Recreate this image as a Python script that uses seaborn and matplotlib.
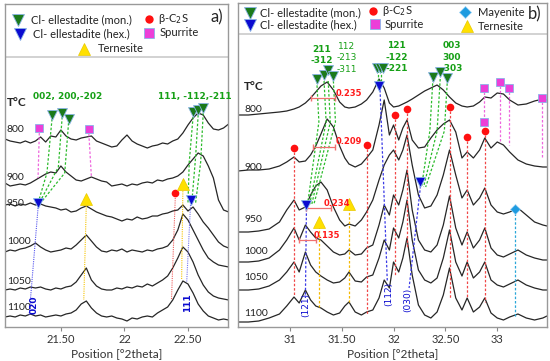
import matplotlib
matplotlib.use("Agg")
import matplotlib.pyplot as plt
import seaborn as sns
from matplotlib.lines import Line2D

# ---------------- panel a (21.06 - 22.82 deg 2theta) ----------------
a_theta = [21.06, 21.10, 21.14, 21.18, 21.22, 21.26, 21.30, 21.34, 21.38, 21.42,
           21.46, 21.50, 21.54, 21.58, 21.62, 21.66, 21.70, 21.74, 21.78, 21.82,
           21.86, 21.90, 21.94, 21.98, 22.02, 22.06, 22.10, 22.14, 22.18, 22.22,
           22.26, 22.30, 22.34, 22.38, 22.42, 22.46, 22.50, 22.54, 22.58, 22.62,
           22.66, 22.70, 22.74, 22.78, 22.82]
# stacked intensities (offset included)
a_800 = [188, 186, 185, 184, 186, 184, 186, 190, 185, 191, 190, 197, 191, 188, 187,
         189, 190, 191, 186, 184, 182, 180, 181, 187, 192, 186, 183, 181, 179, 181,
         182, 184, 183, 186, 188, 194, 202, 209, 214, 212, 204, 198, 197, 199, 203]
a_900 = [144, 141, 142, 143, 142, 144, 147, 150, 153, 155, 154, 161, 155, 151, 147,
         146, 148, 150, 148, 146, 145, 141, 142, 143, 141, 143, 142, 144, 145, 144,
         147, 146, 148, 149, 151, 155, 162, 168, 174, 171, 161, 149, 127, 117, 115]
a_950 = [122, 123, 121, 123, 122, 124, 122, 123, 121, 120, 119, 117, 118, 115, 116,
         119, 121, 118, 115, 113, 111, 110, 108, 106, 108, 107, 110, 108, 109, 111,
         111, 113, 114, 116, 117, 122, 116, 120, 113, 105, 99, 92, 85, 81, 79]
a_1000 = [75, 77, 76, 78, 79, 81, 84, 80, 77, 75, 76, 77, 79, 78, 82,
          87, 92, 86, 80, 76, 75, 77, 76, 78, 75, 77, 76, 75, 77, 76,
          78, 79, 81, 87, 97, 113, 107, 97, 87, 77, 69, 65, 62, 61, 60]
a_1050 = [37, 38, 37, 39, 38, 40, 39, 40, 38, 37, 39, 38, 40, 41, 45,
          52, 59, 47, 41, 38, 37, 37, 39, 38, 40, 39, 41, 40, 43, 41,
          44, 47, 51, 59, 69, 80, 75, 65, 52, 42, 35, 31, 29, 28, 27]
a_1100 = [10, 11, 10, 12, 11, 13, 11, 12, 10, 11, 12, 11, 13, 14, 17,
          23, 26, 19, 14, 11, 10, 11, 9, 8, 6, 9, 8, 10, 11, 10,
          14, 17, 20, 27, 37, 46, 43, 34, 23, 16, 11, 9, 7, 8, 7]

temps = ["800", "900", "950", "1000", "1050", "1100"]
a_label_y = [197, 150, 124, 85, 45, 19]

# phase markers in panel a (position, height)
a_mon_theta = [21.43, 21.51, 21.56, 22.54, 22.58, 22.62]
a_mon_y = [212, 214, 208, 215, 217, 219]
a_hex_theta = [21.32, 22.52]
a_hex_y = [124, 127]
a_c2s_theta = [22.40]
a_c2s_y = [134]
a_spu_theta = [21.33, 21.72]
a_spu_y = [199, 198]
a_ter_theta = [21.70, 22.46]
a_ter_y = [128, 143]

# ---------------- panel b (30.50 - 33.48 deg 2theta) ----------------
b_theta = [30.50, 30.60, 30.70, 30.80, 30.90, 30.97, 31.04, 31.09, 31.15, 31.20,
           31.25, 31.30, 31.36, 31.42, 31.48, 31.53, 31.57, 31.63, 31.69, 31.74,
           31.80, 31.86, 31.91, 31.96, 32.00, 32.05, 32.09, 32.13, 32.18, 32.24,
           32.30, 32.36, 32.42, 32.48, 32.54, 32.60, 32.66, 32.71, 32.77, 32.83,
           32.88, 32.94, 33.00, 33.06, 33.12, 33.20, 33.28, 33.36, 33.44, 33.48]
b_800 = [212, 212, 213, 214, 215, 216, 218, 220, 224, 229, 235, 241, 245, 237, 225,
         220, 219, 220, 223, 227, 235, 248, 239, 224, 220, 221, 223, 225, 228, 232,
         236, 239, 242, 237, 230, 224, 221, 220, 221, 225, 230, 229, 234, 233, 227,
         222, 223, 226, 228, 227]
b_900 = [156, 157, 157, 158, 161, 165, 170, 165, 166, 172, 181, 193, 208, 200, 181,
         169, 163, 160, 163, 169, 177, 202, 227, 192, 202, 187, 199, 207, 187, 179,
         180, 189, 197, 203, 207, 195, 169, 175, 169, 177, 189, 179, 185, 182, 175,
         167, 163, 161, 160, 160]
b_950 = [95, 95, 96, 98, 105, 117, 127, 117, 120, 132, 141, 145, 137, 120, 107,
         101, 103, 101, 107, 115, 127, 147, 162, 172, 177, 167, 177, 192, 162, 132,
         119, 121, 132, 152, 177, 152, 129, 137, 122, 129, 139, 122, 115, 113, 115,
         119, 112, 105, 102, 101]
b_1000 = [65, 65, 66, 69, 77, 87, 99, 87, 102, 95, 89, 87, 81, 75, 72,
          73, 77, 72, 73, 79, 82, 102, 122, 112, 132, 122, 137, 157, 117, 87,
          77, 75, 82, 102, 131, 99, 82, 95, 79, 87, 99, 79, 72, 70, 73,
          77, 72, 69, 67, 67]
b_1050 = [37, 37, 38, 41, 47, 55, 65, 55, 75, 62, 55, 51, 47, 44, 45,
          49, 55, 46, 45, 50, 52, 69, 87, 77, 99, 89, 105, 127, 87, 57,
          47, 44, 49, 69, 97, 65, 51, 65, 49, 55, 65, 47, 42, 40, 43,
          47, 42, 39, 37, 37]
b_1100 = [5, 5, 6, 9, 13, 21, 30, 24, 37, 27, 21, 19, 15, 12, 14,
          21, 25, 15, 12, 15, 17, 29, 47, 39, 65, 55, 69, 89, 52, 22,
          12, 9, 15, 32, 59, 29, 17, 29, 15, 20, 29, 14, 9, 7, 10,
          13, 9, 7, 9, 11]
b_label_y = [217, 159, 107, 75, 49, 14]

b_mon_theta = [31.26, 31.33, 31.37, 31.42, 31.84, 31.87, 31.90, 32.38, 32.45, 32.52]
b_mon_y = [248, 252, 257, 251, 259, 259, 259, 250, 255, 249]
b_hex_theta = [31.86, 31.16, 32.26]
b_hex_y = [241, 122, 145]
b_c2s_theta = [31.04, 31.74, 32.01, 32.13, 32.54, 32.71, 32.88]
b_c2s_y = [179, 182, 212, 218, 220, 190, 196]
b_spu_theta = [32.87, 32.87, 33.03, 33.11, 33.43]
b_spu_y = [239, 205, 245, 239, 229]
b_ter_theta = [31.57, 31.28]
b_ter_y = [123, 105]
b_may_theta = [33.17]
b_may_y = [118]

# FWHM values of the main ellestadite reflection
fwhm_text = ["0.235", "0.209", "0.234", "0.135"]
fwhm_left = [31.20, 31.22, 31.16, 31.09]
fwhm_right = [31.44, 31.44, 31.40, 31.25]
fwhm_y = [229, 180, 119, 87]
fwhm_text_x = [31.44, 31.44, 31.33, 31.23]

MON = "#1b7a1b"
HEX = "#0b0bd0"
C2S = "#ff1010"
SPU = "#ec3fd8"
TER = "#ffe000"
MAY = "#1e9be0"
EDGE = "#8ab4e8"
LBL_GREEN = "#16a016"

sns.set_style("white")
plt.rcParams["font.family"] = ["Lato", "DejaVu Sans"]

fig = plt.figure(figsize=(5.5, 3.61), dpi=100)
ax_a = fig.add_axes([5 / 550, 1 - 327 / 361, 223 / 550, 323 / 361])
ax_b = fig.add_axes([238 / 550, 1 - 327 / 361, 309 / 550, 324 / 361])


def draw_curves(ax, theta, curves):
    for ys in curves:
        sns.lineplot(x=theta, y=ys, ax=ax, color="#262626", lw=0.9,
                     sort=False, estimator=None, legend=False)


def markers(ax, xs, ys, kind, **kw):
    style = {
        "mon": dict(marker="v", color=MON, ms=7.5, mec=EDGE, mew=0.6),
        "hex": dict(marker="v", color=HEX, ms=7.5, mec=EDGE, mew=0.6),
        "c2s": dict(marker="o", color=C2S, ms=5.5, mec=C2S, mew=0),
        "spu": dict(marker="s", color=SPU, ms=6, mec=EDGE, mew=0.6),
        "ter": dict(marker="^", color=TER, ms=8, mec="#e8c800", mew=0.5),
        "may": dict(marker="D", color=MAY, ms=5.5, mec="#9fd3f5", mew=0.5),
    }[kind]
    style.update(kw)
    ax.plot(xs, ys, ls="", zorder=5, **style)


def guide(ax, xs, ys, color, ls=(0, (2, 1.5)), lw=0.9):
    ax.plot(xs, ys, color=color, ls=ls, lw=lw, zorder=3)


draw_curves(ax_a, a_theta, [a_800, a_900, a_950, a_1000, a_1050, a_1100])
draw_curves(ax_b, b_theta, [b_800, b_900, b_950, b_1000, b_1050, b_1100])

# ---- guide lines, panel a ----
guide(ax_a, [21.43, 21.39, 21.32], [208, 154, 124], "#2dbb2d")
guide(ax_a, [21.51, 21.48, 21.33], [210, 160, 124], "#2dbb2d")
guide(ax_a, [21.56, 21.53, 21.34], [204, 154, 124], "#2dbb2d")
guide(ax_a, [22.54, 22.51, 22.50], [210, 165, 124], "#2dbb2d")
guide(ax_a, [22.58, 22.56, 22.53], [212, 170, 124], "#2dbb2d")
guide(ax_a, [22.62, 22.60, 22.56], [214, 165, 124], "#2dbb2d")
guide(ax_a, [21.33, 21.32], [194, 149], "#ee66dd")
guide(ax_a, [21.72, 21.74], [193, 150], "#ee66dd")
guide(ax_a, [21.32, 21.25], [119, 12], "#5555ee", ls=(0, (1, 1)), lw=0.8)
guide(ax_a, [22.52, 22.49], [122, 45], "#7777ee", ls=(0, (1, 1)), lw=0.8)
guide(ax_a, [21.70, 21.68], [123, 27], "#f5c400", ls=(0, (1, 1)), lw=0.8)
guide(ax_a, [22.46, 22.45], [138, 47], "#f5c400", ls=(0, (1, 1)), lw=0.8)
guide(ax_a, [22.40, 22.37], [129, 27], "#f06060", ls=(0, (1, 1)), lw=0.8)

# ---- guide lines, panel b ----
for top, bot in zip([31.26, 31.33, 31.37, 31.42], [31.17, 31.19, 31.21, 31.23]):
    guide(ax_b, [top, top + 0.02, bot], [246, 205, 122], "#2dbb2d")
for top, bot in zip([32.38, 32.45, 32.52], [32.27, 32.29, 32.31]):
    guide(ax_b, [top, top - 0.03, bot], [248, 196, 140], "#2dbb2d")
for t in [31.85, 31.88]:
    guide(ax_b, [t, t], [257, 242], "#2dbb2d")
for t, top, bot in zip(b_c2s_theta, [175, 178, 208, 214, 216, 186, 192],
                       [32, 12, 52, 79, 29, 29, 25]):
    guide(ax_b, [t, t], [top, bot], "#f04848")
guide(ax_b, [31.16, 31.15], [118, 29], "#3a3ae6")
guide(ax_b, [31.87, 31.94], [237, 45], "#3a3ae6")
guide(ax_b, [32.26, 32.15], [141, 39], "#3a3ae6")
guide(ax_b, [31.57, 31.57], [119, 25], "#f5b800")
guide(ax_b, [31.28, 31.28], [101, 20], "#f5b800")
guide(ax_b, [33.17, 33.17], [114, 9], "#2aa7d8")
guide(ax_b, [32.87, 32.87], [235, 210], "#ee66dd")
guide(ax_b, [33.03, 33.03], [241, 184], "#ee66dd")
guide(ax_b, [33.11, 33.11], [235, 182], "#ee66dd")
guide(ax_b, [33.43, 33.43], [225, 169], "#ee66dd")

# FWHM brackets
for txt, l, r, y, tx in zip(fwhm_text, fwhm_left, fwhm_right, fwhm_y, fwhm_text_x):
    ax_b.plot([l, r], [y, y], color="#f07070", lw=0.9, marker="|", ms=4, zorder=4)
    ax_b.text(tx, y + 5, txt, color="#ff1a1a", fontsize=6, fontweight="bold",
              ha="left", va="center", family=["DejaVu Sans"], zorder=6)

# ---- markers ----
markers(ax_a, a_mon_theta, a_mon_y, "mon")
markers(ax_a, a_hex_theta, a_hex_y, "hex")
markers(ax_a, a_c2s_theta, a_c2s_y, "c2s")
markers(ax_a, a_spu_theta, a_spu_y, "spu")
markers(ax_a, a_ter_theta, a_ter_y, "ter")

markers(ax_b, b_mon_theta, b_mon_y, "mon")
markers(ax_b, b_hex_theta, b_hex_y, "hex")
markers(ax_b, b_c2s_theta, b_c2s_y, "c2s")
markers(ax_b, b_spu_theta, b_spu_y, "spu")
markers(ax_b, b_ter_theta, b_ter_y, "ter")
markers(ax_b, b_may_theta, b_may_y, "may")

# ---- texts on the patterns ----
for t, y in zip(temps, a_label_y):
    ax_a.text(21.075, y, t, fontsize=7.5, ha="left", va="center", color="#222222")
for t, y in zip(temps, b_label_y):
    ax_b.text(30.56, y, t, fontsize=7.5, ha="left", va="center", color="#222222")
ax_a.text(21.075, 224, "T°C", fontsize=8.5, fontweight="bold", ha="left", va="center")
ax_b.text(30.56, 240, "T°C", fontsize=8.5, fontweight="bold", ha="left", va="center")

ax_a.text(21.55, 230, "002, 200,-202", color=LBL_GREEN, fontsize=6.5,
          fontweight="bold", ha="center", va="center", family=["DejaVu Sans"])
ax_a.text(22.55, 231, "111, -112,-211", color=LBL_GREEN, fontsize=6.5,
          fontweight="bold", ha="center", va="center", family=["DejaVu Sans"])
ax_a.text(21.29, 22, "020", color=HEX, fontsize=6.5, fontweight="bold",
          rotation=90, ha="center", va="center", family=["DejaVu Sans"])
ax_a.text(22.50, 24, "111", color=HEX, fontsize=6.5, fontweight="bold",
          rotation=90, ha="center", va="center", family=["DejaVu Sans"])

ax_b.text(31.31, 272, "211\n-312", color=LBL_GREEN, fontsize=6.5, fontweight="bold",
          ha="center", va="center", linespacing=1.35, family=["DejaVu Sans"])
ax_b.text(31.55, 269, "112\n-213\n-311", color=LBL_GREEN, fontsize=6.5,
          ha="center", va="center", linespacing=1.35, family=["DejaVu Sans"])
ax_b.text(32.03, 270, "121\n-122\n-221", color=LBL_GREEN, fontsize=6.5, fontweight="bold",
          ha="center", va="center", linespacing=1.35, family=["DejaVu Sans"])
ax_b.text(32.56, 270, "003\n300\n-303", color=LBL_GREEN, fontsize=6.5, fontweight="bold",
          ha="center", va="center", linespacing=1.35, family=["DejaVu Sans"])
ax_b.text(31.155, 22, "(121)", color=HEX, fontsize=6.5, rotation=90,
          ha="center", va="center", family=["DejaVu Sans"])
ax_b.text(31.955, 33, "(112)", color=HEX, fontsize=6.5, rotation=90,
          ha="center", va="center", family=["DejaVu Sans"])
ax_b.text(32.14, 27, "(030)", color=HEX, fontsize=6.5, rotation=90,
          ha="center", va="center", family=["DejaVu Sans"])

# ---- axes styling ----
ax_a.set_xlim(21.06, 22.815)
ax_a.set_ylim(0, 323)
ax_b.set_xlim(30.50, 33.48)
ax_b.set_ylim(0, 324)
ax_a.set_xticks([21.5, 22, 22.5])
ax_a.set_xticklabels(["21.50", "22", "22.50"])
ax_b.set_xticks([31, 31.5, 32, 32.5, 33])
ax_b.set_xticklabels(["31", "31.50", "32", "32.50", "33"])
for ax in (ax_a, ax_b):
    ax.set_yticks([])
    ax.set_ylabel("")
    ax.set_xlabel("Position [°2theta]", fontsize=8.5, labelpad=2, color="#333333")
    ax.tick_params(axis="x", bottom=True, length=3, width=0.8, color="#888888",
                   labelsize=8, pad=2, labelcolor="#333333")
    for s in ax.spines.values():
        s.set_color("#999999")
        s.set_linewidth(1.0)
ax_a.axhline(270, color="#cfcfcf", lw=1.3)
ax_b.axhline(293, color="#cfcfcf", lw=1.3)


# ---- legends (figure pixel positions) ----
def fig_xy(x, y):
    return x / 550, 1 - y / 361


def key(x, y, kind, label, tx):
    style = {
        "mon": dict(marker="v", color=MON, ms=8, mec=EDGE, mew=0.6),
        "hex": dict(marker="v", color=HEX, ms=8, mec=EDGE, mew=0.6),
        "c2s": dict(marker="o", color=C2S, ms=6, mew=0),
        "spu": dict(marker="s", color=SPU, ms=6.5, mec=EDGE, mew=0.6),
        "ter": dict(marker="^", color=TER, ms=9, mec="#e8c800", mew=0.5),
        "may": dict(marker="D", color=MAY, ms=6, mec="#9fd3f5", mew=0.5),
    }[kind]
    fx, fy = fig_xy(x, y)
    fig.add_artist(Line2D([fx], [fy], ls="", transform=fig.transFigure, **style))
    tx_, ty_ = fig_xy(tx, y)
    fig.text(tx_, ty_, label, fontsize=8, ha="left", va="center", color="#222222")


key(18, 20, "mon", "Cl- ellestadite (mon.)", 31)
key(20, 34, "hex", "Cl- ellestadite (hex.)", 33)
key(149, 19, "c2s", r"β-C$_2$S", 158)
key(149, 33, "spu", "Spurrite", 160)
key(84, 49, "ter", "Ternesite", 98)

key(250, 13, "mon", "Cl- ellestadite (mon.)", 260)
key(250, 25, "hex", "Cl- ellestadite (hex.)", 260)
key(373, 11, "c2s", r"β-C$_2$S", 382)
key(375, 24, "spu", "Spurrite", 385)
key(465, 12, "may", "Mayenite", 478)
key(467, 26, "ter", "Ternesite", 478)

fx, fy = fig_xy(217, 17)
fig.text(fx, fy, "a)", fontsize=12, ha="center", va="center")
fx, fy = fig_xy(535, 14)
fig.text(fx, fy, "b)", fontsize=12, ha="center", va="center")

fig.savefig("out.png", dpi=100)
